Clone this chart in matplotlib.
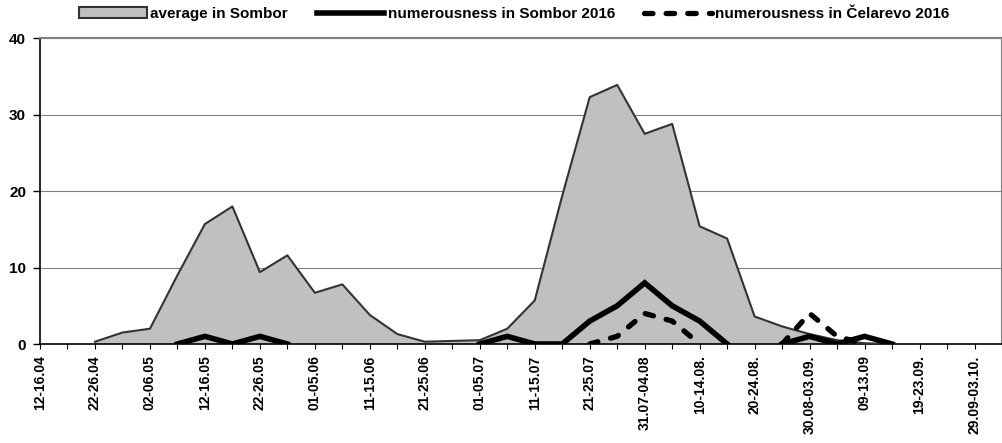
import numpy as np
import matplotlib
matplotlib.use("Agg")
import matplotlib.pyplot as plt
from matplotlib.patches import Patch

nan = np.nan

# 5-day periods, 12-16.04 to 04-08.10 (only every other one gets a label)
tick_labels = ["12-16.04", "22-26.04", "02-06.05", "12-16.05", "22-26.05",
               "01-05.06", "11-15.06", "21-25.06", "01-05.07", "11-15.07",
               "21-25.07", "31.07-04.08", "10-14.08.", "20-24.08.",
               "30.08-03.09.", "09-13.09", "19-23.09.", "29.09-03.10."]

avg_sombor = [nan, nan, 0.3, 1.5, 2.0, 9.0, 15.7, 18.0, 9.4, 11.6,
              6.7, 7.8, 3.8, 1.3, 0.3, 0.4, 0.5, 2.0, 5.7, 19.4,
              32.3, 33.9, 27.5, 28.8, 15.4, 13.8, 3.6, 2.3, 1.3, 0.5,
              0.1, 0.0, nan, nan, nan, nan]

sombor_2016 = [nan, nan, nan, nan, nan, 0, 1, 0, 1, 0,
               nan, nan, nan, nan, nan, nan, 0, 1, 0, 0,
               3, 5, 8, 5, 3, 0, nan, 0, 1, 0,
               1, 0, nan, nan, nan, nan]

celarevo_2016 = [nan, nan, nan, nan, nan, nan, nan, nan, nan, nan,
                 nan, nan, nan, nan, nan, nan, nan, nan, nan, nan,
                 0, 1, 4, 3, 0, nan, nan, 0, 4, 1,
                 0, nan, nan, nan, nan, nan]

plt.rcParams['font.family'] = ['Liberation Sans', 'DejaVu Sans']
plt.rcParams['font.weight'] = 'bold'

x = np.arange(len(avg_sombor))
avg = np.array(avg_sombor, dtype=float)

fig = plt.figure(figsize=(10.03, 4.43), dpi=100)
ax = fig.add_axes([40 / 1003, 1 - 344 / 443, 962 / 1003, (344 - 38.3) / 443])

ax.fill_between(x, 0, avg, where=~np.isnan(avg), facecolor='#C0C0C0',
                edgecolor='none', label='average in Sombor', zorder=2)
ax.plot(x, avg, color='#333333', lw=1.5, zorder=3)
ax.plot(x, sombor_2016, color='black', lw=4.0, solid_joinstyle='miter',
        label='numerousness in Sombor 2016', zorder=4)
ax.plot(x, celarevo_2016, color='black', lw=3.8, dashes=(1.6, 2.5),
        dash_capstyle='round', label='numerousness in Čelarevo 2016', zorder=5)

ax.set_xlim(0, len(x) - 1)
ax.set_ylim(0, 40)
ax.set_yticks([0, 10, 20, 30, 40])
ax.set_xticks(x, minor=True)
ax.set_xticks(x[::2])
ax.set_xticklabels(tick_labels, rotation=90, fontsize=10, fontweight='bold')
ax.tick_params(axis='y', labelsize=11, length=5, width=1, pad=5)
ax.tick_params(axis='x', which='both', length=3.6, width=0.8, pad=4.5)

ax.set_axisbelow(True)
ax.grid(axis='y', color='#808080', lw=0.8)
for s in ['top', 'right']:
    ax.spines[s].set_color('#808080')
    ax.spines[s].set_linewidth(1.5)
ax.spines['left'].set_linewidth(1.2)
ax.spines['bottom'].set_linewidth(1.2)

# legend handle for the area gets the dark outline
handles, labels = ax.get_legend_handles_labels()
handles[0] = Patch(facecolor='#C0C0C0', edgecolor='#333333', lw=1.5)
fig.legend(handles, labels, loc='center', bbox_to_anchor=(514.5 / 1003, 1 - 14 / 443),
           ncol=3, frameon=False, fontsize=11, handlelength=4.4,
           handletextpad=0.25, columnspacing=1.9, borderaxespad=0)

fig.savefig('out.png', dpi=100)
